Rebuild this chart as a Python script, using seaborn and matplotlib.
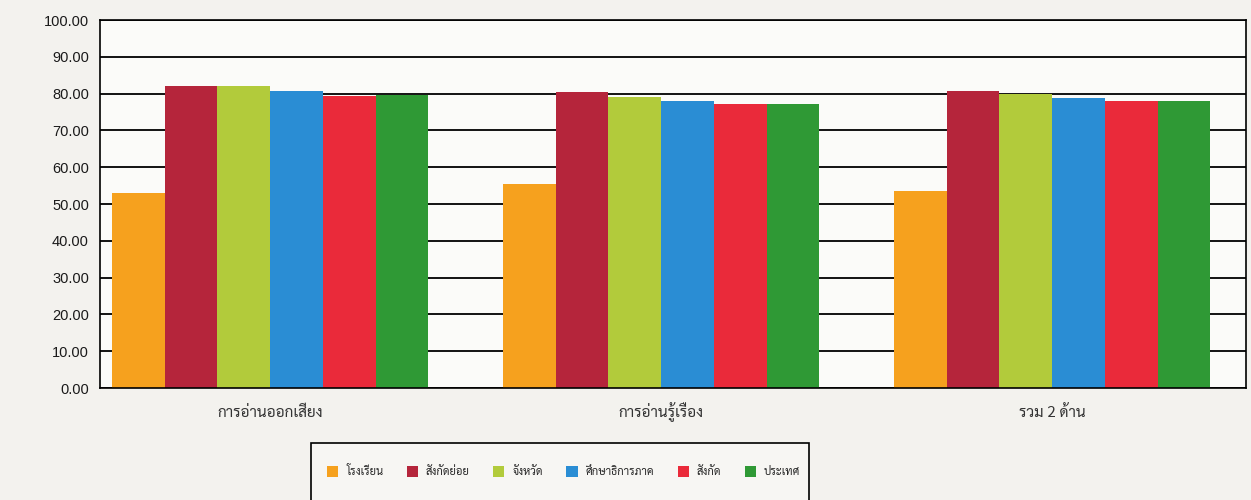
import matplotlib
matplotlib.use("Agg")
import matplotlib.pyplot as plt
import matplotlib.ticker as mticker
from matplotlib.patches import Rectangle
import seaborn as sns
import pandas as pd

# ข้อมูลจากกราฟ
categories = ["การอ่านออกเสียง", "การอ่านรู้เรื่อง", "รวม 2 ด้าน"]
levels = ["โรงเรียน", "สังกัดย่อย", "จังหวัด", "ศึกษาธิการภาค", "สังกัด", "ประเทศ"]
school = [53.0, 55.4, 53.6]
sub_area = [82.1, 80.4, 80.6]
province = [82.1, 79.0, 80.0]
region = [80.6, 77.9, 78.8]
affiliation = [79.3, 77.3, 78.0]
country = [79.6, 77.3, 78.0]
colors = ["#f6a11e", "#b5253b", "#b2cb3b", "#2a8dd4", "#ea2a3a", "#2f9935"]

rows = []
for lvl, vals in zip(levels, [school, sub_area, province, region, affiliation, country]):
    for cat, v in zip(categories, vals):
        rows.append({"ด้าน": cat, "ระดับ": lvl, "คะแนน": v})
df = pd.DataFrame(rows)

sns.set_style("white")
plt.rcParams["font.family"] = ["Liberation Sans", "Sarabun", "DejaVu Sans"]
thai = ["Sarabun", "DejaVu Sans"]

fig = plt.figure(figsize=(12.51, 5), dpi=100, facecolor="#f3f2ee")
ax = fig.add_axes([0.080, 0.224, 0.916, 0.736])
ax.set_facecolor("#fbfbf9")

sns.barplot(data=df, x="ด้าน", y="คะแนน", hue="ระดับ", order=categories,
            hue_order=levels, palette=colors, width=0.81, gap=0,
            saturation=1, linewidth=0, ax=ax, legend=True)

ax.set_ylim(0, 100)
ax.set_xlim(-0.435, 2.496)
ax.yaxis.set_major_locator(mticker.MultipleLocator(10))
ax.yaxis.set_major_formatter(mticker.FormatStrFormatter("%.2f"))
ax.set_axisbelow(True)
ax.yaxis.grid(True, color="black", linewidth=1.3)
for s in ax.spines.values():
    s.set_color("black")
    s.set_linewidth(1.2)
ax.tick_params(axis="y", length=0, pad=8, labelsize=10.5, labelcolor="#1a1a1a")
ax.tick_params(axis="x", length=0, pad=21)
for lab in ax.get_xticklabels():
    lab.set_family(thai)
    lab.set_fontsize(11)
    lab.set_color("#333333")
    lab.set_verticalalignment("baseline")
ax.set_xlabel("")
ax.set_ylabel("")

# กรอบคำอธิบายสัญลักษณ์
handles, labels = ax.get_legend_handles_labels()
ax.get_legend().remove()
fig.patches.append(Rectangle((0.249, -0.05), 0.398, 0.164, transform=fig.transFigure,
                             facecolor="#f7f6f3", edgecolor="black", linewidth=1.2))
fig.legend(handles, labels, ncol=6, loc="center",
           bbox_to_anchor=(0.258, 0.026, 0.385, 0.06), mode="expand",
           frameon=False, handlelength=1.0, handleheight=1.2, handletextpad=0.7,
           borderaxespad=0, prop={"family": thai, "size": 8})

fig.savefig("out.png", facecolor=fig.get_facecolor())
